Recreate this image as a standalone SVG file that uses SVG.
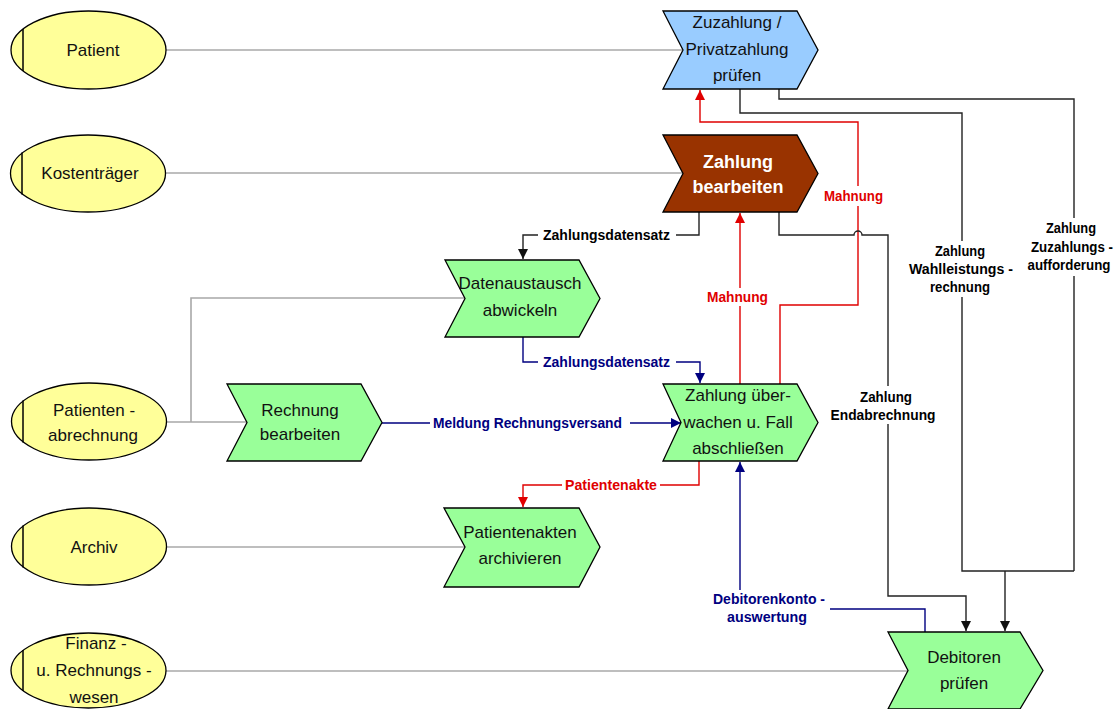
<svg xmlns="http://www.w3.org/2000/svg" width="1119" height="709" viewBox="0 0 1119 709">
  <defs>
    <style>
      .org ellipse { fill: #ffff99; stroke: #000; stroke-width: 1.3; }
      .org line { stroke: #000; stroke-width: 1.5; }
      .org text, .fn text { font-family: "Liberation Sans", Arial, sans-serif; font-size: 17px; fill: #111; text-anchor: middle; }
      .fn path { stroke: #000; stroke-width: 1.3; stroke-linejoin: miter; }
      .green path { fill: #99ff99; }
      .blue path { fill: #99ccff; }
      .brown path { fill: #993300; }
      .brown text { fill: #fff; font-weight: bold; font-size: 18px; }
      .grey { fill: none; stroke: #a8a8a8; stroke-width: 1.6; }
      .blk { fill: none; stroke: #222; stroke-width: 1.4; }
      .nav { fill: none; stroke: #000080; stroke-width: 1.4; }
      .red { fill: none; stroke: #e00000; stroke-width: 1.4; }
      .lbl { font-family: "Liberation Sans Narrow", "Liberation Sans", Arial, sans-serif; font-weight: bold; font-size: 14.5px; text-anchor: middle; }
      .lk { fill: #000; }
      .ln { fill: #000080; }
      .lr { fill: #e00000; }
    </style>
    <marker id="ak" viewBox="0 0 10 10" refX="10" refY="5" markerWidth="10" markerHeight="10" markerUnits="userSpaceOnUse" orient="auto">
      <path d="M0,0 L10,5 L0,10 Z" fill="#111"/>
    </marker>
    <marker id="an" viewBox="0 0 10 10" refX="10" refY="5" markerWidth="10" markerHeight="10" markerUnits="userSpaceOnUse" orient="auto">
      <path d="M0,0 L10,5 L0,10 Z" fill="#000080"/>
    </marker>
    <marker id="ar" viewBox="0 0 10 10" refX="10" refY="5" markerWidth="10" markerHeight="10" markerUnits="userSpaceOnUse" orient="auto">
      <path d="M0,0 L10,5 L0,10 Z" fill="#e00000"/>
    </marker>
  </defs>
  <rect width="1119" height="709" fill="#fff"/>

  <!-- connectors -->
  <g id="connectors">
    <!-- organisational units to functions -->
    <path class="grey" d="M166,50 H682"/>
    <path class="grey" d="M165,173 H683"/>
    <path class="grey" d="M166,422 H248 M191,422 V298 H465"/>
    <path class="grey" d="M166,547 H465"/>
    <path class="grey" d="M165,671 H908"/>

    <!-- Zahlung bearbeiten -> Datenaustausch -->
    <path class="blk" d="M699,212 V235 H676 M538,235 H523 V259" marker-end="url(#ak)"/>
    <text class="lbl lk" x="606.5" y="240" textLength="127" lengthAdjust="spacingAndGlyphs">Zahlungsdatensatz</text>

    <!-- Datenaustausch -> Zahlung überwachen -->
    <path class="nav" d="M523,337 V362 H538 M676,362 H700 V383" marker-end="url(#an)"/>
    <text class="lbl ln" x="606.5" y="367" textLength="127" lengthAdjust="spacingAndGlyphs">Zahlungsdatensatz</text>

    <!-- Rechnung bearbeiten -> Zahlung überwachen -->
    <path class="nav" d="M382,423 H430 M630,423 H681" marker-end="url(#an)"/>
    <text class="lbl ln" x="527.5" y="428" textLength="189" lengthAdjust="spacingAndGlyphs">Meldung Rechnungsversand</text>

    <!-- Mahnung to Zahlung bearbeiten -->
    <path class="red" d="M740,384 V306 M740,288 V213" marker-end="url(#ar)"/>
    <text class="lbl lr" x="737.5" y="302" textLength="61" lengthAdjust="spacingAndGlyphs">Mahnung</text>

    <!-- Mahnung to Zuzahlung prüfen -->
    <path class="red" d="M780,384 V305 H858 V206 M858,186 V122 H700 V90" marker-end="url(#ar)"/>
    <text class="lbl lr" x="853.5" y="201" textLength="59" lengthAdjust="spacingAndGlyphs">Mahnung</text>

    <!-- Zahlung überwachen -> Patientenakten archivieren -->
    <path class="red" d="M699,461 V485 H660 M562,485 H523 V507" marker-end="url(#ar)"/>
    <text class="lbl lr" x="611" y="490" textLength="92" lengthAdjust="spacingAndGlyphs">Patientenakte</text>

    <!-- Debitoren prüfen -> Zahlung überwachen -->
    <path class="nav" d="M925,632 V609 H830 M740,590 V462" marker-end="url(#an)"/>
    <text class="lbl ln" x="769" y="604" textLength="112" lengthAdjust="spacingAndGlyphs">Debitorenkonto -</text>
    <text class="lbl ln" x="767" y="622" textLength="80" lengthAdjust="spacingAndGlyphs">auswertung</text>

    <!-- Endabrechnung -->
    <path class="blk" d="M779,212 V235 H854 A4,4 0 0 1 862,235 H888 V386 M888,424 V596 H966 V631" marker-end="url(#ak)"/>
    <text class="lbl lk" x="886" y="402" textLength="52" lengthAdjust="spacingAndGlyphs">Zahlung</text>
    <text class="lbl lk" x="883" y="420" textLength="105" lengthAdjust="spacingAndGlyphs">Endabrechnung</text>

    <!-- Wahlleistungsrechnung -->
    <path class="blk" d="M740,89 V113 H962 V241 M962,297 V571 H1074"/>
    <text class="lbl lk" x="960" y="256" textLength="50" lengthAdjust="spacingAndGlyphs">Zahlung</text>
    <text class="lbl lk" x="961" y="274" textLength="104" lengthAdjust="spacingAndGlyphs">Wahlleistungs -</text>
    <text class="lbl lk" x="960" y="292" textLength="60" lengthAdjust="spacingAndGlyphs">rechnung</text>

    <!-- Zuzahlungsaufforderung -->
    <path class="blk" d="M779,89 V99 H1074 V218 M1074,276 V571"/>
    <path class="blk" d="M1005,571 V631" marker-end="url(#ak)"/>
    <text class="lbl lk" x="1071" y="233" textLength="50" lengthAdjust="spacingAndGlyphs">Zahlung</text>
    <text class="lbl lk" x="1072" y="252" textLength="82" lengthAdjust="spacingAndGlyphs">Zuzahlungs -</text>
    <text class="lbl lk" x="1069" y="270" textLength="83" lengthAdjust="spacingAndGlyphs">aufforderung</text>
  </g>

  <!-- organisational units -->
  <g id="org-patient" class="org">
    <ellipse cx="88.5" cy="50" rx="77.5" ry="39"/>
    <line x1="23" y1="29" x2="23" y2="71"/>
    <text x="93" y="56">Patient</text>
  </g>
  <g id="org-kostentraeger" class="org">
    <ellipse cx="88" cy="173.5" rx="77.5" ry="38.5"/>
    <line x1="22" y1="152.5" x2="22" y2="194.5"/>
    <text x="90" y="179">Kostenträger</text>
  </g>
  <g id="org-patientenabrechnung" class="org">
    <ellipse cx="89" cy="421.5" rx="77.5" ry="38.5"/>
    <line x1="23" y1="400.5" x2="23" y2="442.5"/>
    <text x="94" y="416">Patienten -</text>
    <text x="93" y="441">abrechnung</text>
  </g>
  <g id="org-archiv" class="org">
    <ellipse cx="89" cy="546.5" rx="77.5" ry="38.5"/>
    <line x1="23" y1="525.5" x2="23" y2="567.5"/>
    <text x="94" y="553">Archiv</text>
  </g>
  <g id="org-finanz" class="org">
    <ellipse cx="88.5" cy="670.5" rx="77.5" ry="37.5"/>
    <line x1="23" y1="650" x2="23" y2="691"/>
    <text x="96" y="649">Finanz -</text>
    <text x="94" y="676">u. Rechnungs -</text>
    <text x="94" y="703">wesen</text>
  </g>

  <!-- functions -->
  <g id="fn-zuzahlung" class="fn blue" transform="translate(663,11)">
    <path d="M0,0 H134 L155,39 L134,78 H0 L20,39 Z"/>
    <text x="74" y="17">Zuzahlung /</text>
    <text x="74" y="44">Privatzahlung</text>
    <text x="74" y="70">prüfen</text>
  </g>
  <g id="fn-zahlung-bearbeiten" class="fn brown" transform="translate(663,135)">
    <path d="M0,0 H134 L155,38.5 L134,77 H0 L20,38.5 Z"/>
    <text x="75" y="33">Zahlung</text>
    <text x="75" y="58">bearbeiten</text>
  </g>
  <g id="fn-datenaustausch" class="fn green" transform="translate(445,260)">
    <path d="M0,0 H134 L155,38.5 L134,77 H0 L20,38.5 Z"/>
    <text x="75" y="29">Datenaustausch</text>
    <text x="75" y="56">abwickeln</text>
  </g>
  <g id="fn-rechnung" class="fn green" transform="translate(227,384)">
    <path d="M0,0 H134 L155,38.5 L134,77 H0 L20,38.5 Z"/>
    <text x="73" y="32">Rechnung</text>
    <text x="73" y="56">bearbeiten</text>
  </g>
  <g id="fn-ueberwachen" class="fn green" transform="translate(663,384)">
    <path d="M0,0 H134 L155,38.5 L134,77 H0 L18,38.5 Z"/>
    <text x="75" y="17">Zahlung über-</text>
    <text x="75" y="44">wachen u. Fall</text>
    <text x="75" y="70">abschließen</text>
  </g>
  <g id="fn-patientenakten" class="fn green" transform="translate(444,508)">
    <path d="M0,0 H135 L156,39 L135,79 H0 L21,39 Z"/>
    <text x="76" y="30">Patientenakten</text>
    <text x="76" y="56">archivieren</text>
  </g>
  <g id="fn-debitoren" class="fn green" transform="translate(888,632)">
    <path d="M0,0 H132 L155,38.5 L132,77 H0 L20,38.5 Z"/>
    <text x="76" y="31">Debitoren</text>
    <text x="76" y="57">prüfen</text>
  </g>
</svg>
